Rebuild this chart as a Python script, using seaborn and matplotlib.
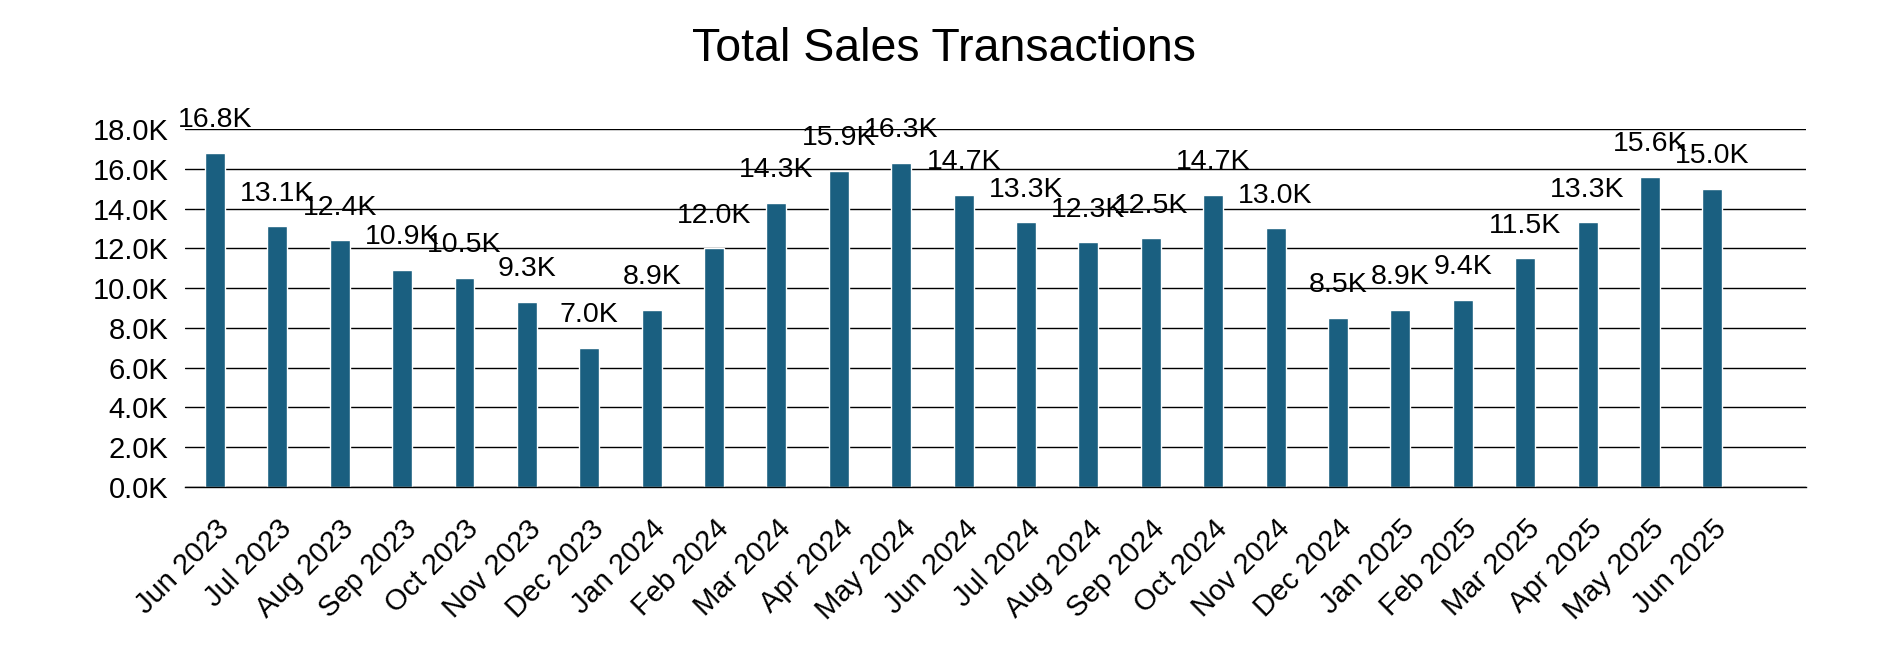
import pandas as pd
import matplotlib.pyplot as plt
import matplotlib.ticker as mticker
import seaborn as sns

sns.set_theme(style="white")
plt.rcParams['font.family'] = ['Liberation Sans', 'DejaVu Sans']
plt.rcParams['text.color'] = 'black'

# monthly totals
months = ['Jun 2023', 'Jul 2023', 'Aug 2023', 'Sep 2023', 'Oct 2023', 'Nov 2023', 'Dec 2023',
          'Jan 2024', 'Feb 2024', 'Mar 2024', 'Apr 2024', 'May 2024', 'Jun 2024', 'Jul 2024',
          'Aug 2024', 'Sep 2024', 'Oct 2024', 'Nov 2024', 'Dec 2024', 'Jan 2025', 'Feb 2025',
          'Mar 2025', 'Apr 2025', 'May 2025', 'Jun 2025']
transactions = [16800, 13100, 12400, 10900, 10500, 9300, 7000,
                8900, 12000, 14300, 15900, 16300, 14700, 13300,
                12300, 12500, 14700, 13000, 8500, 8900, 9400,
                11500, 13300, 15600, 15000]

df = pd.DataFrame({'Month': months, 'Transactions': transactions})

fig = plt.figure(figsize=(18.99, 6.58), dpi=100)
ax = fig.add_axes([0.0974, 0.26, 0.8536, 0.544])

sns.barplot(data=df, x='Month', y='Transactions', color='#1a5f80', saturation=1,
            width=0.32, ax=ax)

# value labels above each bar
for i, v in enumerate(df['Transactions']):
    ax.annotate(f'{v / 1000:.1f}K', (i, v), xytext=(0, 18.5), textcoords='offset points',
                ha='center', va='baseline', fontsize=20.5, color='black')

ax.set_ylim(0, 18000)
ax.set_xlim(-0.48, 25.5)
ax.yaxis.set_major_locator(mticker.MultipleLocator(2000))
ax.yaxis.set_major_formatter(mticker.FuncFormatter(lambda v, p: f'{v / 1000:.1f}K'))
ax.grid(axis='y', color='black', linewidth=1.0)
ax.set_axisbelow(True)
for s in ['left', 'right', 'top']:
    ax.spines[s].set_visible(False)
ax.spines['bottom'].set_color('black')
ax.spines['bottom'].set_linewidth(1.0)

ax.tick_params(axis='y', labelsize=21, length=0, pad=12, colors='black')
ax.tick_params(axis='x', labelsize=21, length=0, pad=20, colors='black')
plt.setp(ax.get_xticklabels(), rotation=45, ha='right', rotation_mode='anchor')
ax.set_xlabel('')
ax.set_ylabel('')

fig.text(0.497, 0.925, 'Total Sales Transactions', ha='center', va='center',
         fontsize=33.5, color='black')

fig.savefig('out.png', dpi=100, facecolor='white')
